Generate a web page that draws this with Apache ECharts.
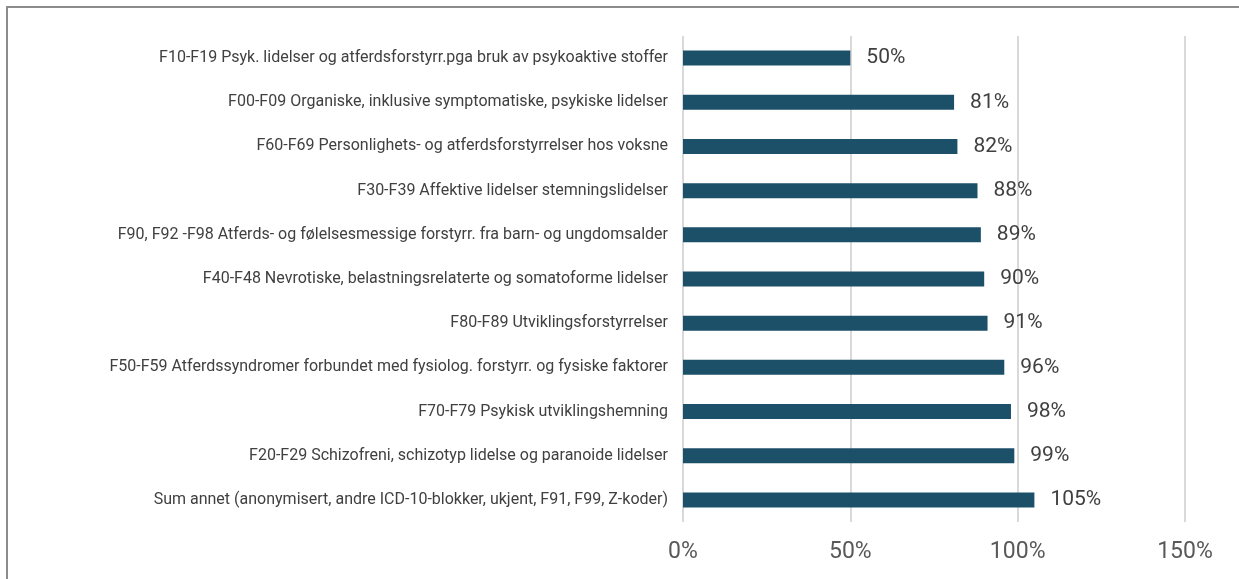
<!DOCTYPE html>
<html>
<head>
<meta charset="utf-8">
<script src="https://cdn.jsdelivr.net/npm/echarts@6/dist/echarts.min.js"></script>
<style>
  html, body { margin: 0; padding: 0; background: #fff; }
  #frame {
    position: absolute; left: 6px; top: 6px; width: 1240px; height: 580px;
    border-left: 2px solid #8c8c8c; border-top: 2px solid #8c8c8c;
  }
  #chart { position: absolute; left: 0; top: 0; width: 1239px; height: 579px; }
</style>
</head>
<body>
<div id="frame"></div>
<div id="chart"></div>
<script>
const categories = [
  'F10-F19 Psyk. lidelser og atferdsforstyrr.pga bruk av psykoaktive stoffer',
  'F00-F09 Organiske, inklusive symptomatiske, psykiske lidelser',
  'F60-F69 Personlighets- og atferdsforstyrrelser hos voksne',
  'F30-F39 Affektive lidelser stemningslidelser',
  'F90, F92 -F98 Atferds- og følelsesmessige forstyrr. fra barn- og ungdomsalder',
  'F40-F48 Nevrotiske, belastningsrelaterte og somatoforme lidelser',
  'F80-F89 Utviklingsforstyrrelser',
  'F50-F59 Atferdssyndromer forbundet med fysiolog. forstyrr. og fysiske faktorer',
  'F70-F79 Psykisk utviklingshemning',
  'F20-F29 Schizofreni, schizotyp lidelse og paranoide lidelser',
  'Sum annet (anonymisert, andre ICD-10-blokker, ukjent, F91, F99, Z-koder)'
]
const values = [50, 81, 82, 88, 89, 90, 91, 96, 98, 99, 105]
const axisMin = 0
const axisMax = 150
const axisStep = 50

const chart = echarts.init(document.getElementById('chart'))
chart.setOption({
  animation: false,
  textStyle: { fontFamily: 'Roboto' },
  grid: {
    left: 683,
    right: 54,
    top: 36,
    bottom: 57
  },
  xAxis: {
    type: 'value',
    min: axisMin,
    max: axisMax,
    interval: axisStep,
    axisLine: { show: false },
    axisTick: { show: false },
    axisLabel: {
      formatter: '{value}%',
      fontSize: 23,
      color: '#595959',
      margin: 19
    },
    splitLine: { lineStyle: { color: '#d9d9d9', width: 2 } }
  },
  yAxis: {
    type: 'category',
    inverse: true,
    data: categories,
    axisLine: { show: false },
    axisTick: { show: false },
    axisLabel: {
      fontSize: 16,
      color: '#404040',
      margin: 15
    }
  },
  series: [{
    type: 'bar',
    data: values,
    barWidth: 15,
    itemStyle: { color: '#1c5069' },
    label: {
      show: true,
      position: 'right',
      distance: 16,
      formatter: '{c}%',
      fontSize: 21,
      color: '#404040'
    }
  }]
})
</script>
</body>
</html>
